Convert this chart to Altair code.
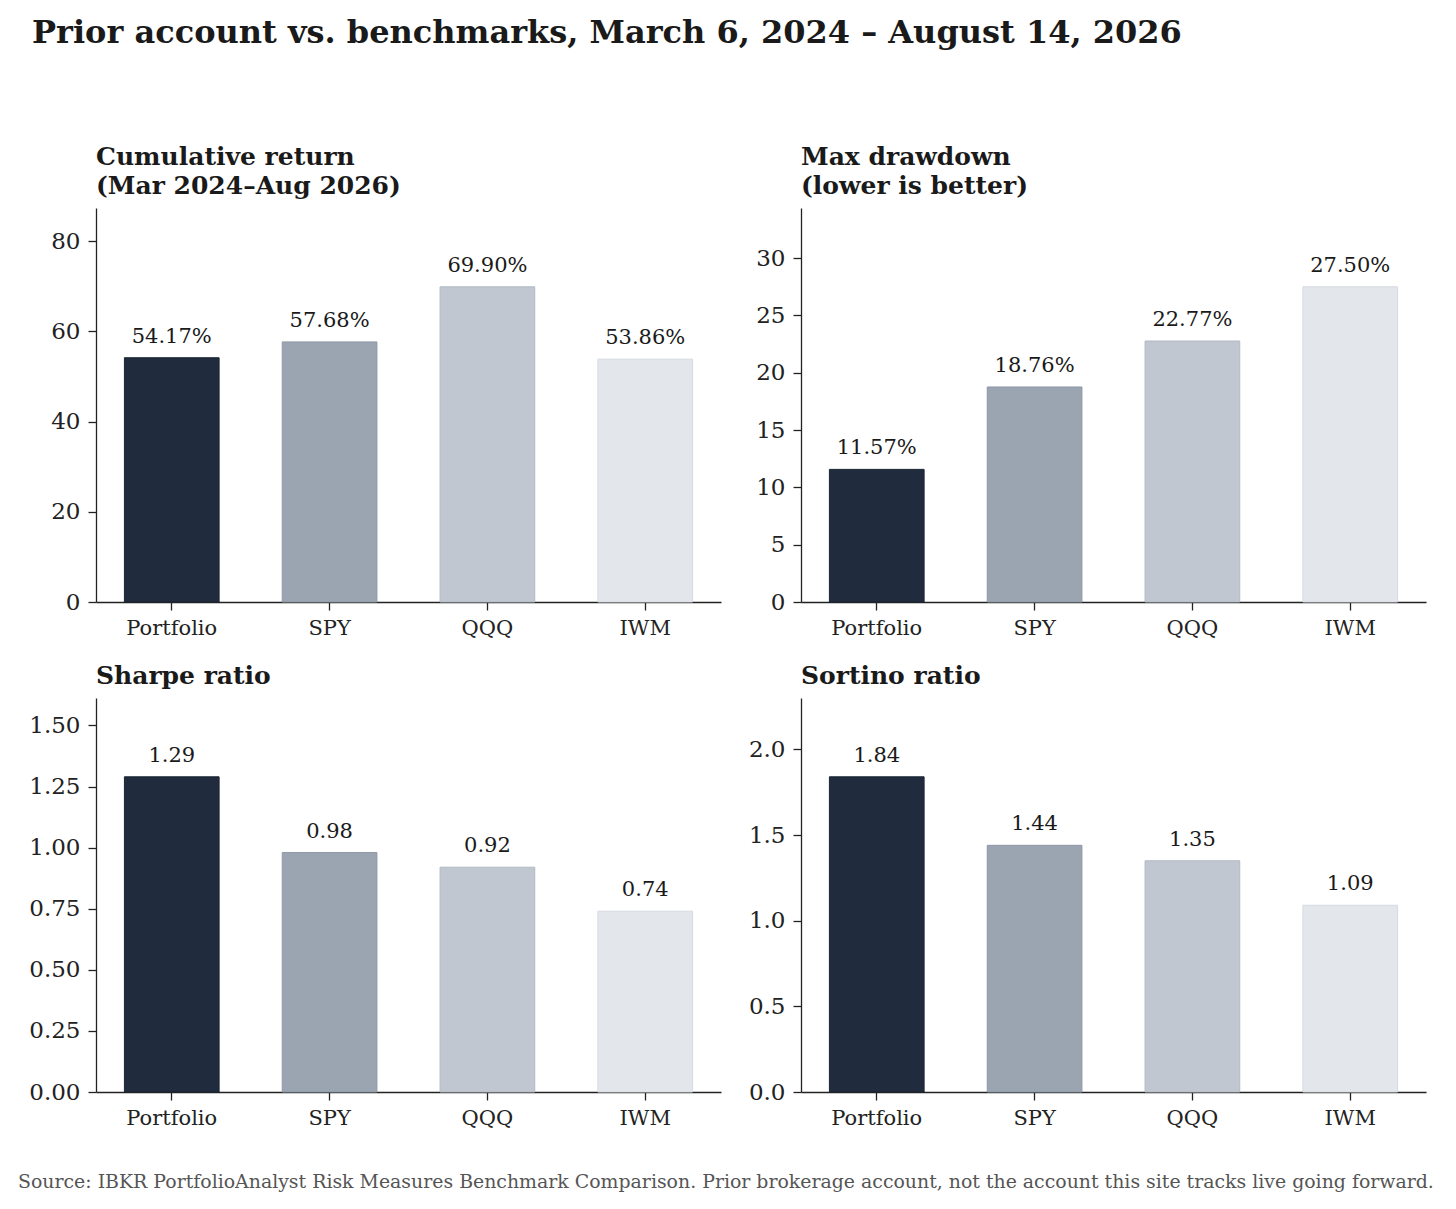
import altair as alt
import pandas as pd

FONT = "DejaVu Serif"

categories = ["Portfolio", "SPY", "QQQ", "IWM"]
bar_colors = ["#202c3d", "#9aa5b1", "#c0c7d0", "#e3e7ec"]
edge_colors = ["#1a2432", "#8e99a6", "#b2bac4", "#d5dae1"]

cum_return = [54.17, 57.68, 69.90, 53.86]
max_drawdown = [11.57, 18.76, 22.77, 27.50]
sharpe = [1.29, 0.98, 0.92, 0.74]
sortino = [1.84, 1.44, 1.35, 1.09]

cum_ticks = [0, 20, 40, 60, 80]
dd_ticks = [0, 5, 10, 15, 20, 25, 30]
sharpe_ticks = [0, 0.25, 0.5, 0.75, 1.0, 1.25, 1.5]
sortino_ticks = [0, 0.5, 1.0, 1.5, 2.0]

main_title = "Prior account vs. benchmarks, March 6, 2024 \u2013 August 14, 2026"
source_note = ("Source: IBKR PortfolioAnalyst Risk Measures Benchmark Comparison. "
               "Prior brokerage account, not the account this site tracks live going forward.")

AXIS_EXT = 79
W, H = 625, 394


def panel(values, ticks, tick_fmt, label_fmt, title_lines):
    df = pd.DataFrame({
        "cat": categories,
        "val": values,
        "label": [label_fmt.format(v) for v in values],
    })
    ymax = max(values) * 1.25
    x = alt.X("cat:N", sort=categories, title=None,
              scale=alt.Scale(paddingInner=0.4, paddingOuter=0.18),
              axis=alt.Axis(labelAngle=0, labelFontSize=21, labelFont=FONT,
                            labelColor="#222222", tickColor="#222222",
                            domainColor="#222222", tickSize=8, labelPadding=7,
                            domainWidth=1.3, tickWidth=1.3))
    y = alt.Y("val:Q", title=None,
              scale=alt.Scale(domain=[0, ymax], nice=False, zero=True),
              axis=alt.Axis(values=ticks, format=tick_fmt, grid=False,
                            labelFontSize=23, labelFont=FONT, labelColor="#222222",
                            tickColor="#222222", domainColor="#222222",
                            tickSize=8, labelPadding=8, domainWidth=1.3, tickWidth=1.3,
                            minExtent=AXIS_EXT, maxExtent=AXIS_EXT))
    base = alt.Chart(df)
    bars = base.mark_bar(strokeWidth=1).encode(
        x=x, y=y,
        color=alt.Color("cat:N", scale=alt.Scale(domain=categories, range=bar_colors), legend=None),
        stroke=alt.Stroke("cat:N", scale=alt.Scale(domain=categories, range=edge_colors), legend=None),
    )
    labels = base.mark_text(baseline="alphabetic", dy=-15, fontSize=21, font=FONT,
                            color="#1a1a1a").encode(x=x, y=y, text="label:N")
    return alt.layer(bars, labels).properties(
        width=W, height=H,
        title=alt.TitleParams(title_lines, anchor="start", frame="group", fontSize=25,
                              font=FONT, fontWeight="bold", color="#1a1a1a",
                              lineHeight=29, offset=9),
    )


p1 = panel(cum_return, cum_ticks, "d", "{:.2f}%", ["Cumulative return", "(Mar 2024\u2013Aug 2026)"])
p2 = panel(max_drawdown, dd_ticks, "d", "{:.2f}%", ["Max drawdown", "(lower is better)"])
p3 = panel(sharpe, sharpe_ticks, ".2f", "{:.2f}", "Sharpe ratio")
p4 = panel(sortino, sortino_ticks, ".1f", "{:.2f}", "Sortino ratio")

grid = alt.vconcat(
    alt.hconcat(p1, p2, spacing=1),
    alt.hconcat(p3, p4, spacing=1),
    spacing=26,
)

src = alt.Chart(pd.DataFrame({"t": [source_note]})).mark_text(
    align="left", baseline="alphabetic", fontSize=18.9, font=FONT, color="#555555"
).encode(text="t:N", x=alt.value(-78), y=alt.value(20)).properties(width=1, height=24)

chart = alt.vconcat(grid, src, spacing=40).properties(
    title=alt.TitleParams(main_title, anchor="start", frame="group", fontSize=32, font=FONT,
                          fontWeight="bold", color="#1a1a1a", offset=95, dx=-64),
    padding={"left": 9, "top": 9, "right": 2, "bottom": 2},
).configure(font=FONT, view=alt.ViewConfig(stroke="transparent", strokeWidth=0))

chart.save("out.html", embed_options={"renderer": "svg", "actions": False})
